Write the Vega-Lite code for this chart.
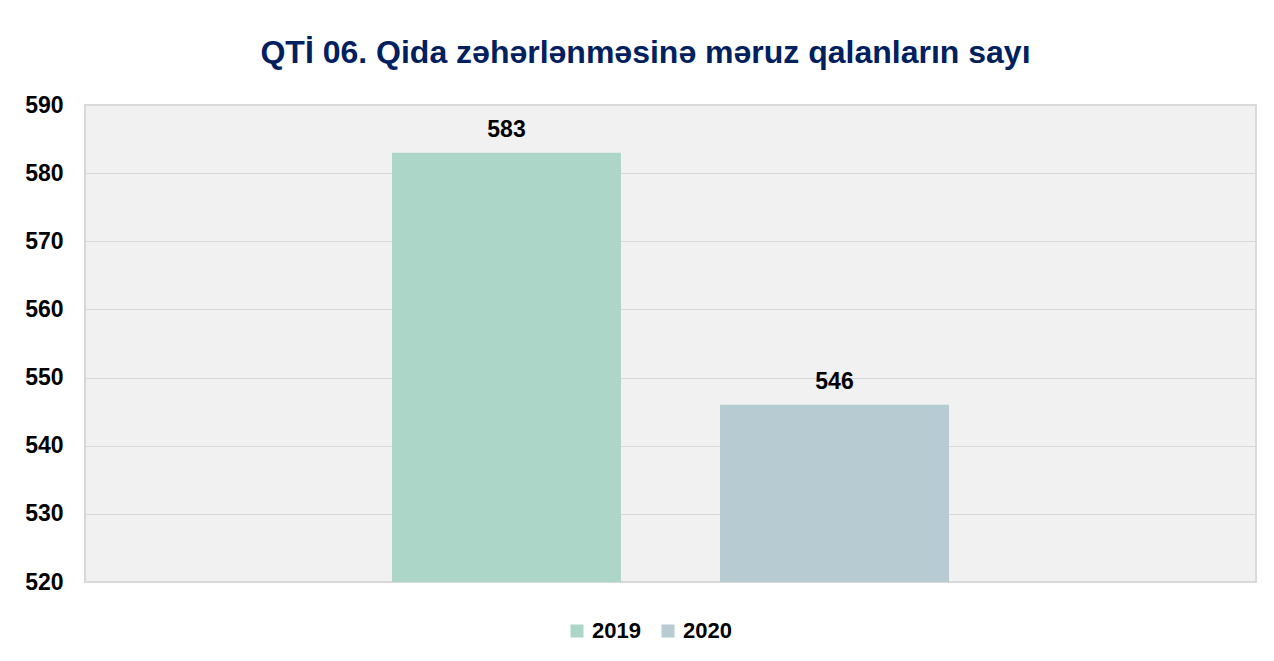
{
  "$schema": "https://vega.github.io/schema/vega-lite/v6.json",
  "autosize": "none",
  "width": 1171,
  "height": 477,
  "padding": {"left": 85, "top": 105, "right": 18, "bottom": 79},
  "background": "white",
  "title": {
    "text": "QTİ 06. Qida zəhərlənməsinə məruz qalanların sayı",
    "font": "Liberation Sans",
    "fontSize": 32,
    "fontWeight": "bold",
    "color": "#002060",
    "anchor": "middle",
    "dx": -25,
    "offset": 24
  },
  "data": {
    "values": [
      {"il": "2019", "say": 583},
      {"il": "2020", "say": 546}
    ]
  },
  "encoding": {
    "x": {
      "field": "il",
      "type": "nominal",
      "axis": null,
      "scale": {"paddingInner": 0.302, "paddingOuter": 0.936}
    },
    "y": {
      "field": "say",
      "type": "quantitative",
      "scale": {"domain": [520, 590], "nice": false, "zero": false},
      "axis": {
        "values": [520, 530, 540, 550, 560, 570, 580, 590],
        "title": null,
        "domain": false,
        "ticks": false,
        "grid": true,
        "gridColor": "#d9d9d9",
        "gridWidth": 1,
        "labelFont": "Liberation Sans",
        "labelFontSize": 23,
        "labelFontWeight": "bold",
        "labelColor": "#000000",
        "labelPadding": 22
      }
    }
  },
  "layer": [
    {
      "mark": {"type": "bar", "clip": true},
      "encoding": {
        "y2": {"datum": 520},
        "color": {
          "field": "il",
          "type": "nominal",
          "scale": {"domain": ["2019", "2020"], "range": ["#acd6c8", "#b6cbd2"]},
          "legend": {
            "title": null,
            "orient": "none",
            "legendX": 481,
            "legendY": 515,
            "direction": "horizontal",
            "symbolType": "square",
            "symbolSize": 170,
            "symbolStrokeWidth": 0,
            "labelFont": "Liberation Sans",
            "labelFontSize": 22,
            "labelFontWeight": "bold",
            "labelColor": "#000000",
            "labelOffset": 4,
            "columnPadding": 16
          }
        }
      }
    },
    {
      "mark": {
        "type": "text",
        "baseline": "bottom",
        "dy": -11,
        "font": "Liberation Sans",
        "fontSize": 23,
        "fontWeight": "bold",
        "color": "#000000"
      },
      "encoding": {"text": {"field": "say", "type": "quantitative"}}
    }
  ],
  "config": {
    "view": {"stroke": "#d9d9d9", "strokeWidth": 2, "fill": "#f1f1f1"}
  }
}
